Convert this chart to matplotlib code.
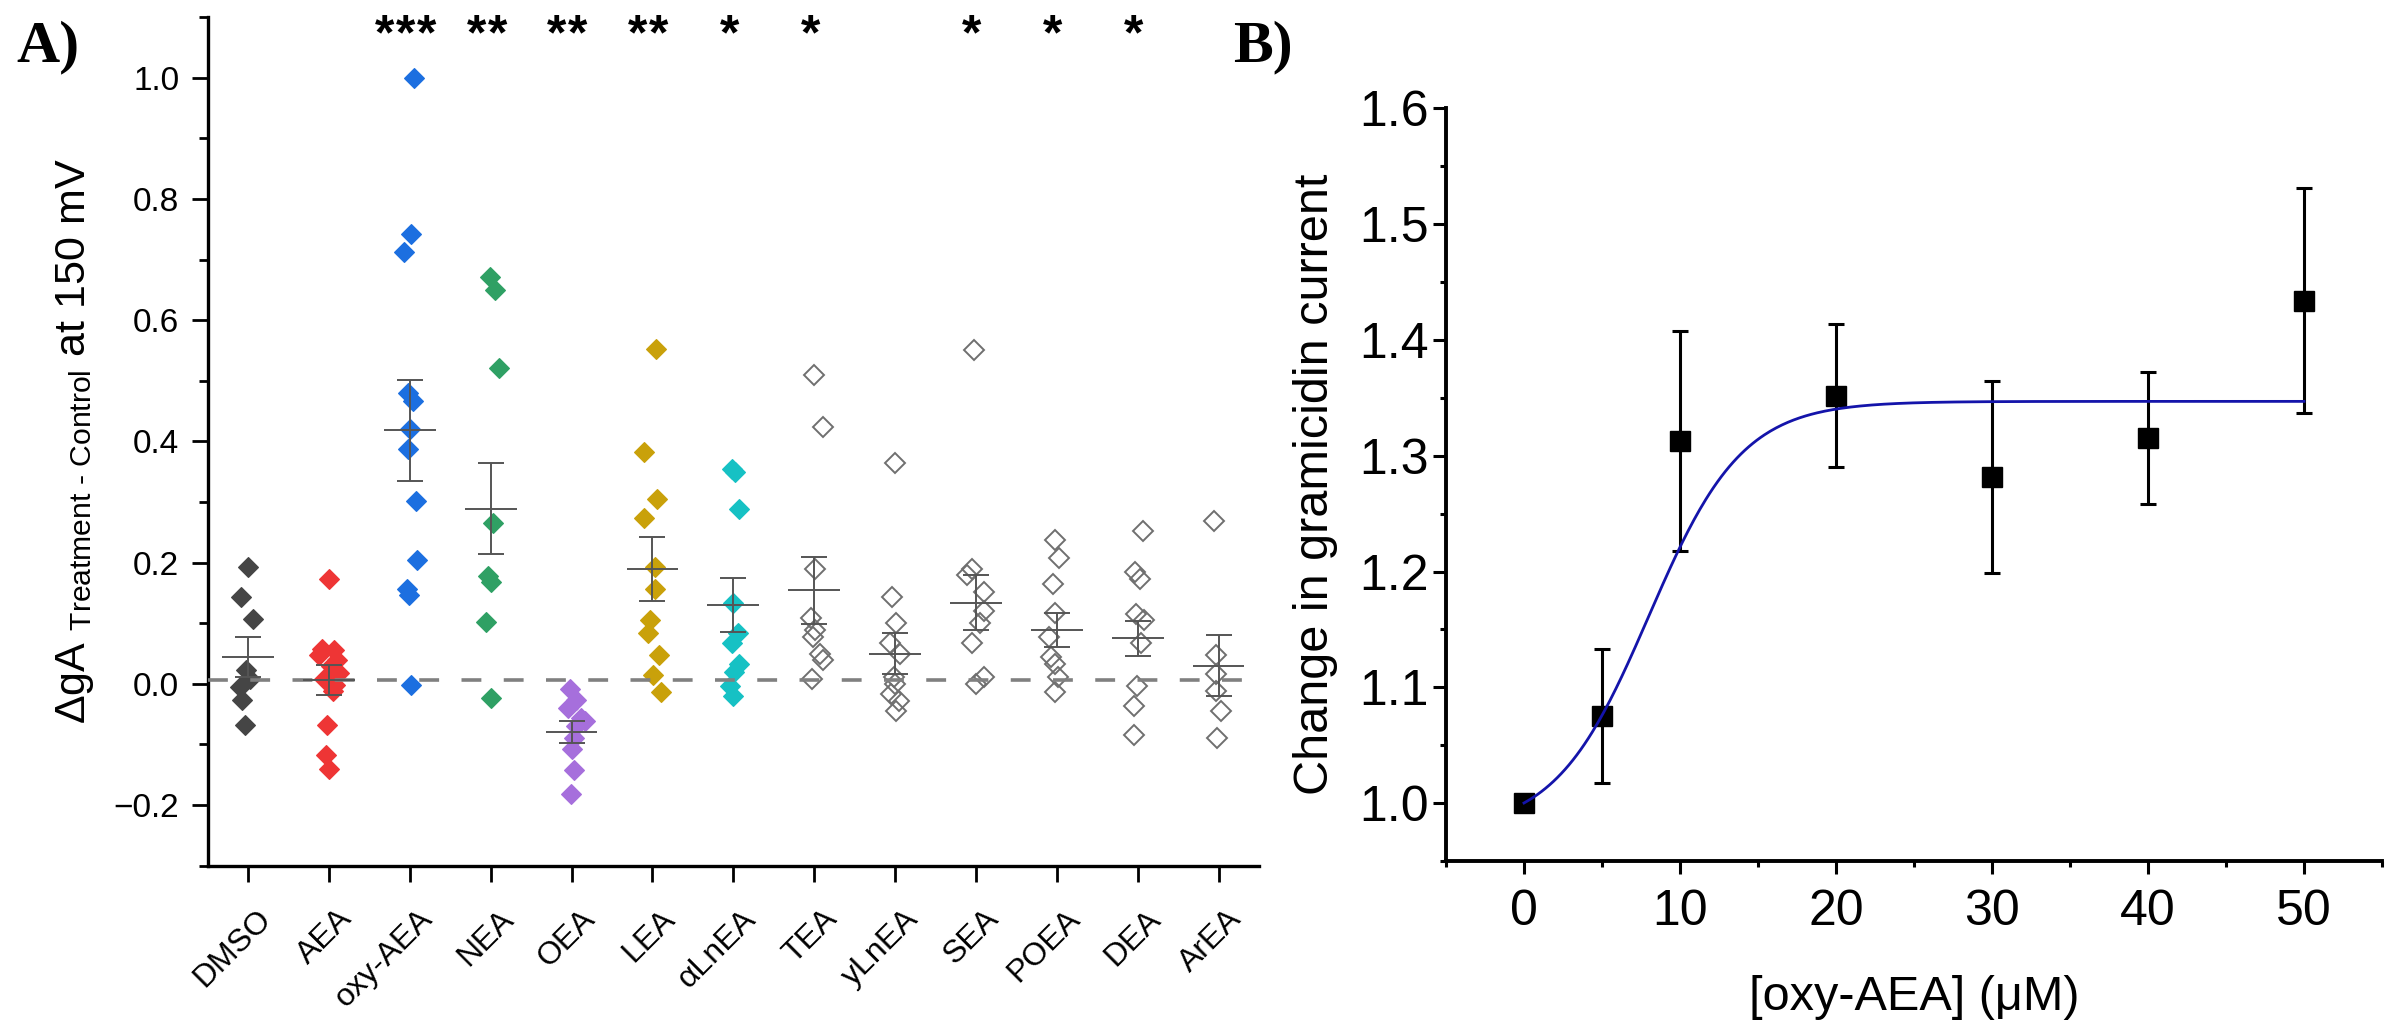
import numpy as np
import matplotlib
matplotlib.use('Agg')
import matplotlib.pyplot as plt
from matplotlib.ticker import MultipleLocator, FuncFormatter
from matplotlib.transforms import ScaledTranslation

plt.rcParams['font.family'] = ['Liberation Sans', 'DejaVu Sans']
plt.rcParams['mathtext.fontset'] = 'custom'
plt.rcParams['mathtext.rm'] = 'Liberation Sans'
plt.rcParams['mathtext.it'] = 'Liberation Sans:italic'
plt.rcParams['mathtext.bf'] = 'Liberation Sans:bold'

# ---- panel A data ----
groups = ['DMSO', 'AEA', 'oxy-AEA', 'NEA', 'OEA', 'LEA', 'αLnEA',
          'TEA', 'yLnEA', 'SEA', 'POEA', 'DEA', 'ArEA']

dmso = [0.192, 0.144, 0.107, 0.022, 0.008, -0.005, -0.027, -0.068]
aea = [0.173, 0.058, 0.055, 0.048, 0.040, 0.030, 0.018, 0.008, -0.002,
       -0.012, -0.068, -0.118, -0.140]
oxy_aea = [1.0, 0.742, 0.713, 0.479, 0.466, 0.420, 0.387, 0.302, 0.205,
           0.157, 0.147, -0.002]
nea = [0.671, 0.650, 0.521, 0.266, 0.178, 0.168, 0.102, -0.023]
oea = [-0.009, -0.026, -0.040, -0.056, -0.062, -0.070, -0.090, -0.107,
       -0.143, -0.182]
lea = [0.552, 0.382, 0.305, 0.273, 0.193, 0.156, 0.106, 0.084, 0.047,
       0.014, -0.014]
alnea = [0.355, 0.350, 0.288, 0.134, 0.084, 0.067, 0.033, 0.019, -0.003,
         -0.020]
tea = [0.509, 0.424, 0.190, 0.109, 0.089, 0.078, 0.050, 0.039, 0.008]
ylnea = [0.364, 0.143, 0.101, 0.067, 0.050, 0.011, 0.0, -0.017, -0.028,
         -0.045]
sea = [0.551, 0.190, 0.179, 0.151, 0.120, 0.100, 0.067, 0.011, 0.0]
poea = [0.238, 0.207, 0.165, 0.117, 0.078, 0.045, 0.033, 0.011, -0.014]
dea = [0.252, 0.185, 0.173, 0.115, 0.106, 0.067, -0.003, -0.037, -0.084]
area = [0.268, 0.047, 0.017, -0.012, -0.045, -0.090]

values = [dmso, aea, oxy_aea, nea, oea, lea, alnea, tea, ylnea, sea, poea,
          dea, area]

# horizontal scatter of each point around its category (category units)
jitter = [
    [0.0, -0.09, 0.06, -0.02, 0.03, -0.10, -0.07, -0.04],
    [0.0, -0.08, 0.06, -0.12, 0.10, 0.02, 0.12, -0.06, 0.08, 0.05, -0.02, -0.04, 0.0],
    [0.05, 0.01, -0.07, -0.02, 0.04, 0.0, -0.02, 0.08, 0.095, -0.03, -0.01, 0.01],
    [-0.01, 0.05, 0.10, 0.03, -0.03, 0.0, -0.06, 0.01],
    [-0.02, 0.06, -0.05, 0.12, 0.17, 0.06, 0.03, 0.0, 0.03, -0.01],
    [0.04, -0.11, 0.055, -0.11, 0.03, 0.03, -0.03, -0.055, 0.08, 0.01, 0.10],
    [-0.02, 0.02, 0.07, 0.0, 0.055, -0.02, 0.066, 0.01, -0.044, 0.0],
    [0.0, 0.11, 0.01, -0.045, 0.01, -0.017, 0.066, 0.11, -0.033],
    [0.0, -0.044, 0.01, -0.066, 0.055, -0.01, 0.0, -0.055, 0.044, 0.01],
    [-0.02, -0.05, -0.116, 0.105, 0.105, 0.05, -0.05, 0.105, 0.0],
    [-0.017, 0.028, -0.044, -0.017, -0.10, -0.072, -0.017, 0.011, -0.017],
    [0.06, -0.033, 0.033, -0.022, 0.077, 0.044, -0.011, -0.05, -0.05],
    [-0.055, -0.028, -0.028, -0.028, 0.028, -0.017],
]

means = [0.044, 0.006, 0.418, 0.289, -0.080, 0.190, 0.130, 0.154, 0.050,
         0.134, 0.088, 0.075, 0.030]
sems = [0.033, 0.025, 0.083, 0.075, 0.018, 0.053, 0.045, 0.055, 0.034,
        0.045, 0.028, 0.029, 0.050]
stars = [0, 0, 3, 2, 2, 2, 1, 1, 0, 1, 1, 1, 0]
baseline = 0.007

fill_colors = ['#454545', '#ee3535', '#1c6fe0', '#2fa064', '#a66fdc',
               '#c9a10a', '#16c1c4'] + [None] * 6

# ---- panel B data ----
conc = [0, 5, 10, 20, 30, 40, 50]
current = [1.000, 1.075, 1.313, 1.352, 1.282, 1.315, 1.434]
current_err = [0.005, 0.058, 0.095, 0.062, 0.083, 0.057, 0.097]
# Boltzmann fit parameters
fit_a1, fit_a2, fit_x0, fit_dx = 0.976, 1.347, 8.0, 3.0


def minus_fmt(v, pos):
    return ('%.1f' % v).replace('-', '\u2212')


fig = plt.figure(figsize=(24, 10.33), dpi=100)

# ================= panel A =================
axA = fig.add_axes([0.0865, 0.1620, 0.4381, 0.8215])
x = np.arange(len(groups))

for i, (vals, dx) in enumerate(zip(values, jitter)):
    xs = i + np.array(dx)
    c = fill_colors[i]
    if c is None:
        axA.plot(xs, vals, 'D', ms=10.3, mfc='none', mec='#6f6f6f', mew=1.4,
                 ls='none', zorder=2)
    else:
        axA.plot(xs, vals, 'D', ms=10.3, mfc=c, mec=c, mew=0.8, ls='none',
                 zorder=2)

axA.axhline(baseline, color='#808080', lw=2.6, dashes=(5.5, 6.2), zorder=3)

axA.hlines(means, x - 0.32, x + 0.32, color='#555555', lw=1.4, zorder=4)
axA.errorbar(x, means, yerr=sems, fmt='none', ecolor='#555555',
             elinewidth=1.4, capsize=9.5, capthick=1.4, zorder=4)

# significance stars, one text per star
pitch = 0.26
for i, n in enumerate(stars):
    for k in range(n):
        xs = i - 0.05 + (k - (n - 1) / 2) * pitch
        axA.text(xs, 1.068, '*', ha='center', va='center', fontsize=36,
                 fontweight='bold')

axA.set_xlim(-0.5, 12.5)
axA.set_ylim(-0.3, 1.1)
axA.set_xticks(x)
axA.set_xticklabels(groups, rotation=45, ha='right', rotation_mode='anchor')
axA.set_yticks([-0.2, 0.0, 0.2, 0.4, 0.6, 0.8, 1.0])
axA.yaxis.set_minor_locator(MultipleLocator(0.1))
axA.yaxis.set_major_formatter(FuncFormatter(minus_fmt))
for sp in ['top', 'right']:
    axA.spines[sp].set_visible(False)
for sp in ['left', 'bottom']:
    axA.spines[sp].set_linewidth(2.4)
axA.tick_params(axis='both', which='major', direction='out', length=11.5,
                width=2.0, labelsize=24)
axA.tick_params(axis='x', labelsize=23)
axA.tick_params(axis='y', which='major', pad=9)
axA.tick_params(axis='x', which='major', pad=16)
axA.tick_params(axis='y', which='minor', direction='out', length=6.5,
                width=2.0)
shift = ScaledTranslation(8 / 100, 0, fig.dpi_scale_trans)
for lab in axA.get_xticklabels():
    lab.set_transform(lab.get_transform() + shift)

axA.set_ylabel(r'ΔgA $_{\text{Treatment - Control}}$ at 150 mV', fontsize=31,
               va='center')
axA.yaxis.set_label_coords(-0.126, 0.5)

fig.text(16 / 2400, 1 - 20 / 1033, 'A)', fontsize=43, fontweight='bold',
         family='Liberation Serif', ha='left', va='top')

# ================= panel B =================
axB = fig.add_axes([0.6025, 0.1665, 0.39, 0.7285])
axB.errorbar(conc, current, yerr=current_err, fmt='none', ecolor='black',
             elinewidth=2.2, capsize=6, capthick=2.2, zorder=2)
axB.plot(conc, current, 's', color='black', ms=14.5, zorder=3)
xf = np.linspace(0, 50, 400)
yf = fit_a2 + (fit_a1 - fit_a2) / (1 + np.exp((xf - fit_x0) / fit_dx))
axB.plot(xf, yf, color='#1414aa', lw=2.0, zorder=4)

axB.set_xlim(-5, 55)
axB.set_ylim(0.95, 1.6)
axB.set_xticks([0, 10, 20, 30, 40, 50])
axB.xaxis.set_minor_locator(MultipleLocator(5))
axB.set_yticks([1.0, 1.1, 1.2, 1.3, 1.4, 1.5, 1.6])
axB.yaxis.set_minor_locator(MultipleLocator(0.05))
axB.yaxis.set_major_formatter(FuncFormatter(minus_fmt))
for sp in ['top', 'right']:
    axB.spines[sp].set_visible(False)
for sp in ['left', 'bottom']:
    axB.spines[sp].set_linewidth(2.8)
axB.tick_params(axis='both', which='major', direction='out', length=9.5,
                width=2.2, labelsize=36)
axB.tick_params(axis='both', which='minor', direction='out', length=4.5,
                width=2.2)
axB.tick_params(axis='y', which='major', pad=3)
axB.tick_params(axis='x', which='major', pad=11)

axB.set_ylabel('Change in gramicidin current', fontsize=35, va='center')
axB.yaxis.set_label_coords(-0.139, 0.5)
axB.set_xlabel('[oxy-AEA] (μM)', fontsize=35, va='center')
axB.xaxis.set_label_coords(0.5, -0.181)

fig.text(1233 / 2400, 1 - 20 / 1033, 'B)', fontsize=43, fontweight='bold',
         family='Liberation Serif', ha='left', va='top')

fig.savefig('out.png', dpi=100)
